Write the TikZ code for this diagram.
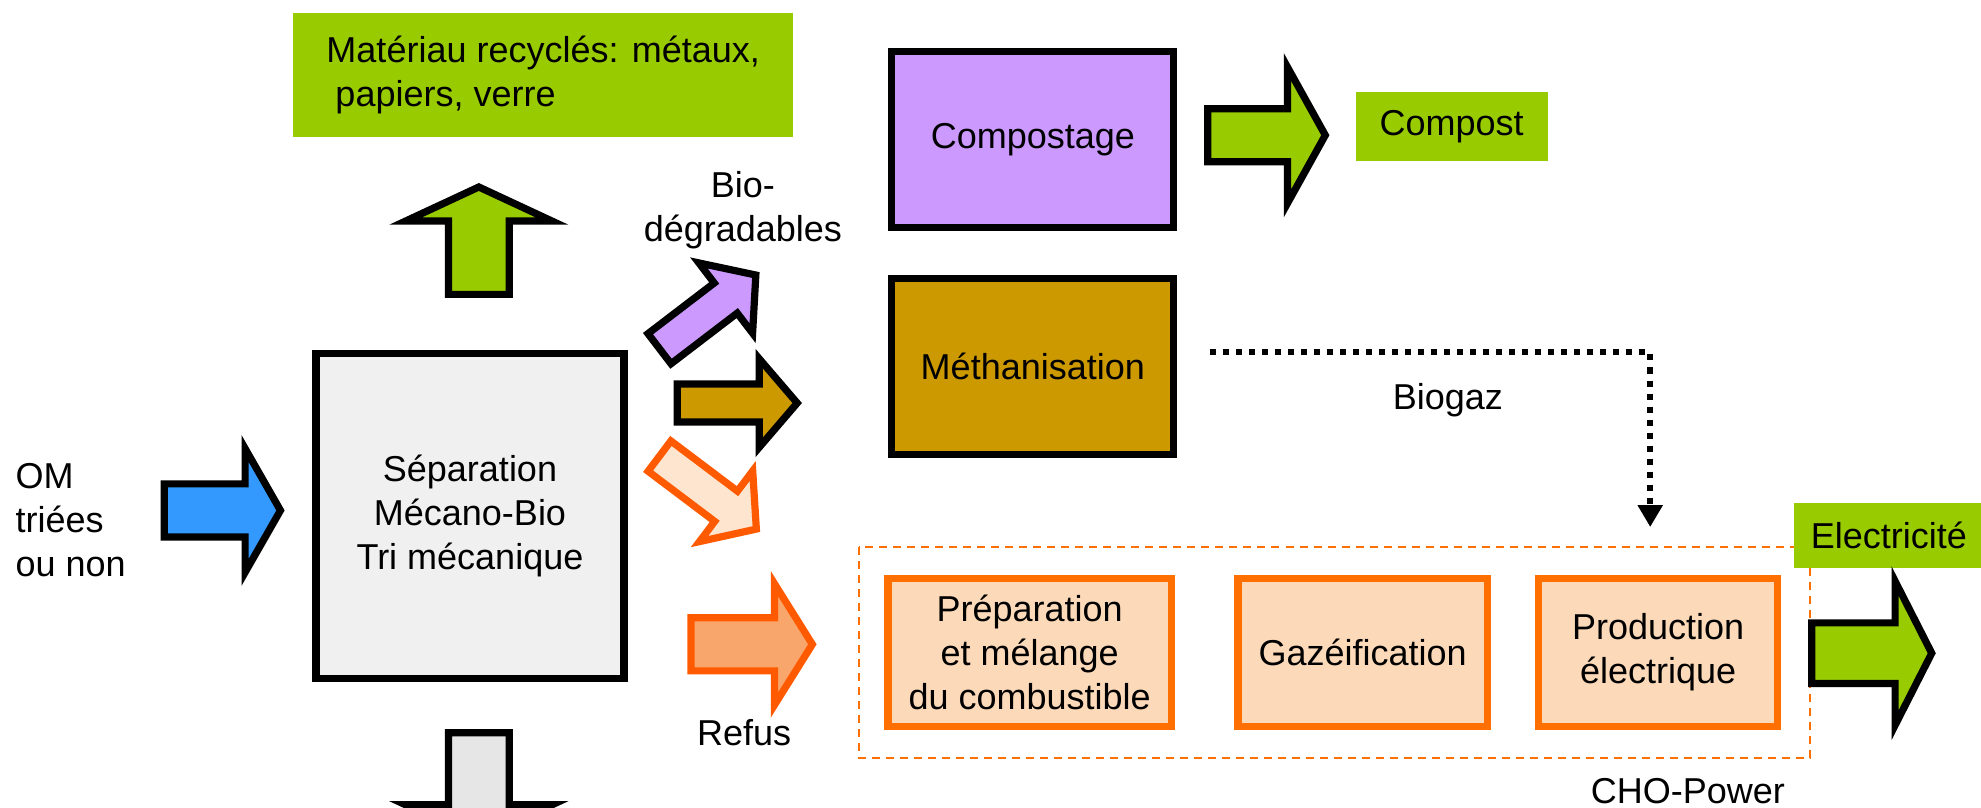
\documentclass[tikz,border=0pt]{standalone}
\usepackage{fontspec}
\setmainfont{Liberation Sans}[Ligatures=NoCommon]
\usepackage{tikz}
\usetikzlibrary{arrows.meta}

\definecolor{lime}{HTML}{99CC00}
\definecolor{mauve}{HTML}{CC99FF}
\definecolor{ochre}{HTML}{CC9900}
\definecolor{sky}{HTML}{3399FF}
\definecolor{pale}{HTML}{F0F0F0}
\definecolor{palearr}{HTML}{E6E6E6}
\definecolor{orangeline}{HTML}{FF7000}
\definecolor{orangearr}{HTML}{FF5A00}
\definecolor{peach}{HTML}{FCD9B8}
\definecolor{peachlight}{HTML}{FDE5CF}
\definecolor{peachdark}{HTML}{F9A66C}

% style, tail, angle, length, half shaft, half head, head length
\newcommand{\blockarrow}[7]{%
    \draw[#1, shift={#2}, rotate=#3] (0,-#5) -- (#4-#7,-#5) -- (#4-#7,-#6) -- (#4,0)
        -- (#4-#7,#6) -- (#4-#7,#5) -- (0,#5) -- cycle;}

\begin{document}
\begin{tikzpicture}[x=0.6316pt, y=-0.6316pt, font=\fontsize{18}{22}\selectfont,
    thick line/.style={line width=3.6pt},
    box/.style={draw, thick line, inner sep=0pt, align=center},
    greenbox/.style={fill=lime, inner sep=0pt},
    obox/.style={box, draw=orangeline, fill=peach},
    blackarr/.style={draw, thick line, miter limit=10},
    orangearr/.style={draw=orangearr, thick line, miter limit=10},
    biogazline/.style={line width=3pt, dash pattern=on 3pt off 3.5pt, -{Triangle[width=12pt, length=11pt]}},
    chobox/.style={draw=orangeline, line width=1pt, dash pattern=on 4pt off 3pt}]
    \useasboundingbox (0,0) rectangle (1568,639);
    \clip (0,0) rectangle (1568,639);

    % entree et tri
    \node[inner sep=0pt, anchor=west, align=left] (om) at (12,412) {OM\\triées\\ou non};
    \node[box, fill=pale, minimum width=154pt, minimum height=162.5pt] (sep) at (372,408.5) {Séparation\\Mécano-Bio\\Tri mécanique};
    \node[greenbox, minimum width=250pt, minimum height=62pt, align=left] (recyc) at (430,59) {Matériau recyclés: métaux,\\\hspace*{0.25em}papiers, verre};

    \blockarrow{blackarr, fill=sky}{(130,404)}{0}{92}{21}{49}{28}
    \blockarrow{blackarr, fill=lime}{(379,233)}{90}{85}{24}{58}{27}
    \blockarrow{blackarr, fill=palearr}{(379,580)}{-90}{84}{24}{58}{27}

    % trois filieres
    \blockarrow{blackarr, fill=mauve}{(522,276)}{37.4}{96}{15}{35}{30}
    \blockarrow{blackarr, fill=ochre}{(536,319)}{0}{95}{15}{35}{30}
    \blockarrow{orangearr, fill=peachlight}{(522,361)}{-37}{96}{15}{35}{30}
    \blockarrow{orangearr, fill=peachdark}{(547,510)}{0}{96}{21}{48}{30}
    \node[align=center] (biodeg) at (588,166) {Bio-\\dégradables};
    \node (refus) at (589,580) {Refus};

    \node[box, fill=mauve, minimum width=141pt, minimum height=88pt] (compostage) at (817.5,110.5) {Compostage};
    \node[box, fill=ochre, minimum width=141pt, minimum height=88pt] (methan) at (817.5,290) {Méthanisation};
    \blockarrow{blackarr, fill=lime}{(956,107)}{0}{93}{21}{54}{30}
    \node[greenbox, minimum width=96pt, minimum height=34.7pt] (compost) at (1149,100) {Compost};

    % CHO-Power
    \coordinate (chonw) at (680,433);
    \coordinate (chose) at (1433,600);
    \draw[chobox] (chonw) rectangle (chose);
    \node[obox, minimum width=141.7pt, minimum height=74.1pt] (prep) at (815,516.5) {Préparation\\et mélange\\du combustible};
    \node[obox, minimum width=124.6pt, minimum height=74.1pt] (gaz) at (1078.5,516.5) {Gazéification};
    \node[obox, minimum width=119.6pt, minimum height=74.1pt] (prod) at (1312.5,516.5) {Production\\électrique};
    \node[greenbox, minimum width=94.7pt, minimum height=32.8pt] (elec) at (1495,424) {Electricité};
    \blockarrow{blackarr, fill=lime}{(1434,517)}{0}{95}{24}{57}{29}
    \node (chopower) at (1336,626.5) {CHO-Power};

    \draw[biogazline, shorten <=16.4pt, shorten >=23.9pt] ([yshift=7pt]methan.east) -| ([xshift=-4pt]prod.north);
    \node (biogaz) at (1146,317) {Biogaz};
\end{tikzpicture}
\end{document}
